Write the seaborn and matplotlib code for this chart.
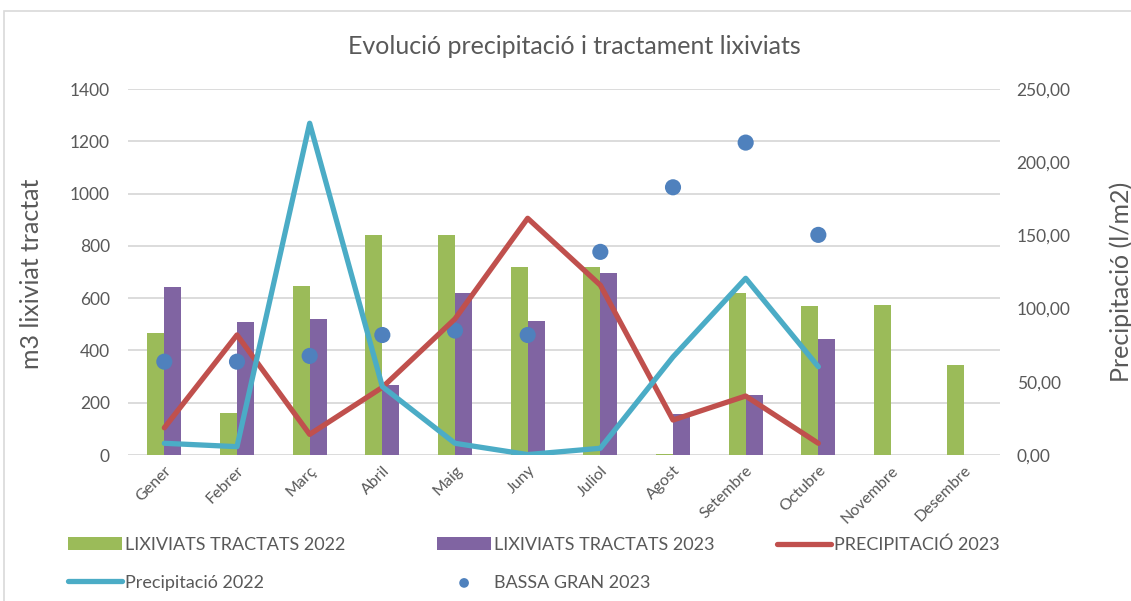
import numpy as np
import pandas as pd
import matplotlib
matplotlib.use("Agg")
import matplotlib.pyplot as plt
from matplotlib.patches import Rectangle
from matplotlib.ticker import FuncFormatter
import seaborn as sns

# ---------------------------------------------------------------------------
# Data
# ---------------------------------------------------------------------------
MONTHS = ["Gener", "Febrer", "Març", "Abril", "Maig", "Juny", "Juliol",
          "Agost", "Setembre", "Octubre", "Novembre", "Desembre"]

LIXIVIATS_2022 = [468, 160, 647, 843, 842, 718, 720, 3, 621, 570, 575, 343]
LIXIVIATS_2023 = [644, 509, 519, 267, 618, 511, 695, 157, 231, 443]

PRECIP_2023 = [18.6, 82.0, 14.1, 46.2, 93.0, 161.7, 116.0, 23.9, 40.3, 8.0]
PRECIP_2022 = [8.0, 5.7, 226.6, 46.7, 8.0, 0.3, 4.6, 67.0, 120.7, 60.3]
BASSA_GRAN_2023 = [357, 357, 379, 459, 476, 459, 777, 1024, 1195, 842]

LABEL_L22 = "LIXIVIATS TRACTATS 2022"
LABEL_L23 = "LIXIVIATS TRACTATS 2023"
LABEL_P23 = "PRECIPITACIÓ 2023"
LABEL_P22 = "Precipitació 2022"
LABEL_BASSA = "BASSA GRAN 2023"

GREEN = "#9BBB59"
PURPLE = "#8064A2"
RED = "#C0504D"
CYAN = "#4BACC6"
BLUE = "#4F81BD"
TEXT = "#595959"
GRID = "#D9D9D9"

FONT = "Lato"

# ---------------------------------------------------------------------------
# Build frames
# ---------------------------------------------------------------------------
bars = pd.concat([
    pd.DataFrame({"mes": MONTHS, "m3": LIXIVIATS_2022, "serie": LABEL_L22}),
    pd.DataFrame({"mes": MONTHS[:len(LIXIVIATS_2023)], "m3": LIXIVIATS_2023,
                  "serie": LABEL_L23}),
], ignore_index=True)

pos = np.arange(len(PRECIP_2023))

sns.set_theme(style="white")
plt.rcParams["font.family"] = [FONT, "DejaVu Sans"]

fig = plt.figure(figsize=(11.31, 6.01), dpi=100)
ax = fig.add_axes([128 / 1131, 1 - 455 / 601, 872 / 1131, 366 / 601])

sns.barplot(data=bars, x="mes", y="m3", hue="serie", order=MONTHS,
            hue_order=[LABEL_L22, LABEL_L23], palette=[GREEN, PURPLE],
            width=0.47, gap=0, saturation=1, linewidth=0, ax=ax)

sns.scatterplot(x=pos, y=BASSA_GRAN_2023, ax=ax, s=135, color=BLUE,
                edgecolor="none", label=LABEL_BASSA, zorder=5)

ax2 = ax.twinx()
sns.lineplot(x=pos, y=PRECIP_2023, ax=ax2, color=RED, linewidth=3.8,
             label=LABEL_P23)
sns.lineplot(x=pos, y=PRECIP_2022, ax=ax2, color=CYAN, linewidth=3.8,
             label=LABEL_P22)

# axes styling
ax.set_xlim(-0.5, len(MONTHS) - 0.5)
ax.set_ylim(0, 1400)
ax.set_yticks(range(0, 1401, 200))
ax2.set_ylim(0, 250)
ax2.set_yticks(range(0, 251, 50))
ax2.yaxis.set_major_formatter(FuncFormatter(lambda v, _: f"{v:.2f}".replace(".", ",")))

ax.yaxis.grid(True, color=GRID, linewidth=1.3)
ax.set_axisbelow(True)
ax2.grid(False)
for a in (ax, ax2):
    for s in a.spines.values():
        s.set_visible(False)
    a.tick_params(length=0, colors=TEXT, labelsize=12.5)
    a.set_xlabel("")
    a.set_ylabel("")

ax.set_xticks(range(len(MONTHS)))
ax.set_xticklabels(MONTHS, rotation=45, ha="right", rotation_mode="anchor",
                   fontsize=11.5, color=TEXT)
ax.tick_params(axis="x", pad=6)
ax.tick_params(axis="y", pad=13)
ax2.tick_params(axis="y", pad=12)

# titles / axis labels
fig.text(0.508, 0.922, "Evolució precipitació i tractament lixiviats",
         ha="center", va="center", fontsize=18, color=TEXT)
fig.text(32 / 1131, 1 - 274 / 601, "m3 lixiviat tractat", rotation=90,
         ha="center", va="center", fontsize=18, color=TEXT)
fig.text(1121 / 1131, 1 - 282 / 601, "Precipitació (l/m2)", rotation=90,
         ha="center", va="center", fontsize=18, color=TEXT)

# legend: three single-column legends placed like the reference
h1, l1 = ax.get_legend_handles_labels()
h2, l2 = ax2.get_legend_handles_labels()
lookup = dict(zip(l1 + l2, h1 + h2))
for a in (ax, ax2):
    if a.get_legend() is not None:
        a.get_legend().remove()

legend_cols = [
    ([LABEL_L22, LABEL_P22], 68),
    ([LABEL_L23, LABEL_BASSA], 437),
    ([LABEL_P23], 777),
]
for labels, x0 in legend_cols:
    fig.legend([lookup[k] for k in labels], labels, ncol=1, frameon=False,
               loc="upper left", bbox_to_anchor=(x0 / 1131, 1 - 537 / 601),
               borderaxespad=0, borderpad=0, fontsize=13, handlelength=3.0,
               handletextpad=0.15, labelspacing=1.2, markerscale=0.6,
               labelcolor=TEXT)

# chart frame
fig.patches.append(Rectangle((4 / 1131, -0.05), 1.2, 1 - 11 / 601 + 0.05,
                             transform=fig.transFigure, fill=False,
                             edgecolor=GRID, linewidth=1.2))

fig.savefig("out.png", dpi=100)
